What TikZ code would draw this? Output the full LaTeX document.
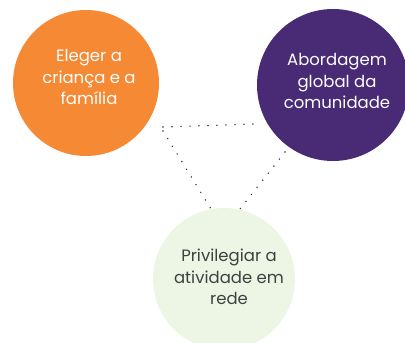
\documentclass[tikz,border=0pt]{standalone}
\usepackage{fontspec}
\setmainfont{Poppins}
\definecolor{orangecirc}{RGB}{245,137,52}
\definecolor{purplecirc}{RGB}{72,42,117}
\definecolor{greencirc}{RGB}{237,246,229}
\definecolor{greentext}{RGB}{64,64,64}
\begin{document}
\begin{tikzpicture}
  [x=1pt,y=-1pt,
   topic/.style={circle,inner sep=0pt,align=center,font=\fontsize{16.5}{21.5}\selectfont},
   link/.style={line width=1.6pt,line cap=round,dash pattern=on 0pt off 9pt,black!80}]
  \useasboundingbox (0,0) rectangle (405,343);
  \clip (0,0) rectangle (405,343);
  \fill[orangecirc] (86,83) circle (73);
  \fill[purplecirc] (333,85) circle (76);
  \fill[greencirc] (224,279) circle (71);
  \node[topic,text=white] (crianca) at (89,77) {Eleger a\\criança e a\\família};
  \node[topic,text=white] (comunidade) at (337,81) {Abordagem\\global da\\comunidade};
  \node[topic,text=greentext] (rede) at (229,277) {Privilegiar a\\atividade em\\rede};
  \coordinate (crianca-a) at (163,127);
  \coordinate (crianca-b) at (163,131);
  \coordinate (comunidade-a) at (254,124);
  \coordinate (comunidade-b) at (285,152);
  \coordinate (rede-a) at (211,209);
  \coordinate (rede-b) at (240,209);
  \draw[link] (crianca-a) -- (comunidade-a);
  \draw[link] (crianca-b) -- (rede-a);
  \draw[link] (comunidade-b) -- (rede-b);
\end{tikzpicture}
\end{document}
